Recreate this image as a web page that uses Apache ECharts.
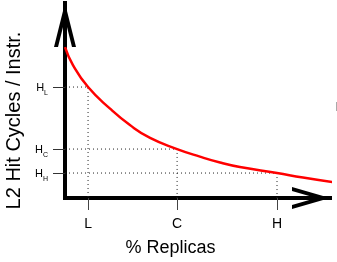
<!DOCTYPE html>
<html>
<head>
<meta charset="utf-8">
<script src="https://cdn.jsdelivr.net/npm/echarts@6/dist/echarts.min.js"></script>
<style>
  html, body { margin: 0; padding: 0; background: #fff; }
  #chart { width: 337px; height: 262px; }
</style>
</head>
<body>
<div id="chart"></div>
<script>
// curve (x: % replicas, y: hit cycles), both on a 0-100 scale
var curveX = [0, 3.0, 8.7, 17.0, 24.5, 32.1, 42.3, 50.9, 58.5, 66.0, 80.0, 89.8, 102.6];
var curveY = [77.4, 68.2, 56.9, 45.8, 37.4, 30.8, 25.1, 21.2, 18.2, 15.9, 12.8, 10.5, 7.8];

// the three marked points L, C, H
var markNames = ['L', 'C', 'H'];
var markX = [8.7, 42.3, 80.0];
var markY = [56.9, 25.1, 12.8];

var FONT = '"Liberation Sans", Arial, Helvetica, sans-serif';

var curveData = curveX.map(function (x, i) { return [x, curveY[i]]; });

// dotted guides: from y axis to the point, then down to x axis
var guideSeries = markX.map(function (x, i) {
    return {
        type: 'line',
        data: [[0, markY[i]], [x, markY[i]], [x, 0]],
        symbol: 'none',
        silent: true,
        z: 1,
        lineStyle: { color: '#222', width: 1, type: [1, 3] }
    };
});

function nearestIndex(arr, v) {
    var best = 0;
    arr.forEach(function (a, i) {
        if (Math.abs(a - v) < Math.abs(arr[best] - v)) best = i;
    });
    return best;
}

var yArrow = 'path://M11,0 L22,44 L18,44 L11,16 L4,44 L0,44 Z';
var xArrow = 'path://M11,0 L22,38 L18,38 L11,13.8 L4,38 L0,38 Z';

var myChart = echarts.init(document.getElementById('chart'));
var option = {
    animation: false,
    grid: {
        left: 65,
        right: 7,
        top: 3,
        bottom: 64,
        outerBoundsMode: 'none'
    },
    xAxis: {
        type: 'value',
        min: 0,
        max: 100,
        name: '% Replicas',
        nameLocation: 'middle',
        nameGap: 41,
        nameTextStyle: {
            fontFamily: FONT,
            fontSize: 18,
            color: '#000',
            padding: [0, 54, 0, 0]
        },
        splitLine: { show: false },
        axisLine: {
            show: true,
            symbol: ['none', xArrow],
            symbolSize: [22, 38],
            symbolOffset: [0, -19],
            lineStyle: { color: '#000', width: 4, cap: 'square' }
        },
        axisTick: {
            show: true,
            customValues: markX,
            length: 12,
            lineStyle: { color: '#444', width: 1 }
        },
        axisLabel: {
            customValues: markX,
            margin: 19,
            fontFamily: FONT,
            fontSize: 14,
            color: '#000',
            formatter: function (v) { return markNames[nearestIndex(markX, v)]; }
        }
    },
    yAxis: {
        type: 'value',
        min: 0,
        max: 100,
        name: 'L2 Hit Cycles / Instr.',
        nameLocation: 'middle',
        nameGap: 38,
        nameTextStyle: {
            fontFamily: FONT,
            fontSize: 20,
            color: '#000',
            padding: [0, 40, 0, 0]
        },
        splitLine: { show: false },
        axisLine: {
            show: true,
            symbol: ['none', yArrow],
            symbolSize: [22, 44],
            symbolOffset: [0, -22],
            lineStyle: { color: '#000', width: 4, cap: 'square' }
        },
        axisTick: {
            show: true,
            customValues: markY,
            length: 12,
            lineStyle: { color: '#333', width: 1 }
        },
        axisLabel: {
            customValues: markY,
            margin: 17,
            padding: [8, 0, 0, 0],
            color: '#000',
            formatter: function (v) {
                return '{a|H}{b|' + markNames[nearestIndex(markY, v)] + '}';
            },
            rich: {
                a: { fontFamily: FONT, fontSize: 11, lineHeight: 12, padding: [0, 0, 6, 0] },
                b: { fontFamily: FONT, fontSize: 7, lineHeight: 8, verticalAlign: 'bottom' }
            }
        }
    },
    graphic: [{
        type: 'rect',
        shape: { x: 336, y: 102, width: 1, height: 9 },
        style: { fill: '#aaa' },
        silent: true
    }],
    series: guideSeries.concat([{
        type: 'line',
        data: curveData,
        smooth: 0.5,
        symbol: 'none',
        clip: false,
        z: 3,
        lineStyle: { color: '#ff0000', width: 2.5 }
    }])
};

myChart.setOption(option);
</script>
</body>
</html>
